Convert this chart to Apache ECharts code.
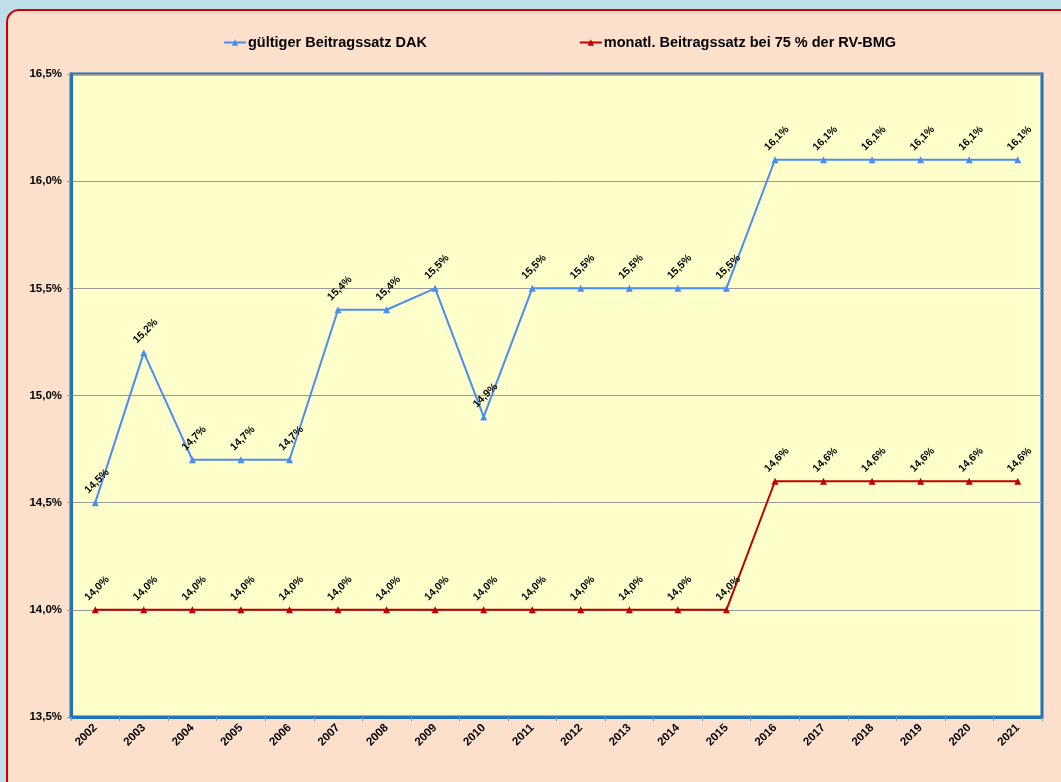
<!DOCTYPE html>
<html><head><meta charset="utf-8">
<script src="https://cdn.jsdelivr.net/npm/echarts@6/dist/echarts.min.js"></script>
<style>html,body{margin:0;padding:0;background:#bfe0eb;}#c{width:1061px;height:782px;}</style>
</head><body><div id="c"></div>
<script>
const years = ['2002','2003','2004','2005','2006','2007','2008','2009','2010','2011','2012','2013','2014','2015','2016','2017','2018','2019','2020','2021'];
const dakRate = [14.5,15.2,14.7,14.7,14.7,15.4,15.4,15.5,14.9,15.5,15.5,15.5,15.5,15.5,16.1,16.1,16.1,16.1,16.1,16.1];
const bmgRate = [14.0,14.0,14.0,14.0,14.0,14.0,14.0,14.0,14.0,14.0,14.0,14.0,14.0,14.0,14.6,14.6,14.6,14.6,14.6,14.6];
const seriesNames = ['gültiger Beitragssatz DAK','monatl. Beitragssatz bei 75 % der RV-BMG'];

const fmt = v => v.toFixed(1).replace('.', ',') + '%';
const font = '"Liberation Sans", Arial, sans-serif';
const chart = echarts.init(document.getElementById('c'));
const lbl = {
  show: true, position: 'top', distance: 14, rotate: 45, offset: [4, 4],
  formatter: p => fmt(p.value), fontFamily: font, fontWeight: 'bold', fontSize: 10.5, color: '#000'
};
chart.setOption({
  backgroundColor: '#bfe0eb',
  animation: false,
  graphic: [{
    type: 'rect', z: -10, silent: true,
    shape: {x: 7, y: 10, width: 1080, height: 800, r: 12},
    style: {fill: '#fde0cc', stroke: '#cc0000', lineWidth: 2}
  }],
  legend: {
    top: 30, left: 218, itemGap: 152, itemWidth: 22, itemHeight: 8,
    textStyle: {fontFamily: font, fontWeight: 'bold', fontSize: 14.5, color: '#000', padding: [0, 0, 0, -3]},
    data: seriesNames
  },
  grid: {
    left: 71, right: 19, top: 74, bottom: 65,
    show: true, backgroundColor: '#ffffcc', borderColor: '#1e73be', borderWidth: 3
  },
  xAxis: {
    type: 'category', data: years, boundaryGap: true,
    axisLine: {lineStyle: {color: '#1e73be', width: 3}},
    axisTick: {show: true, length: 4, lineStyle: {color: '#999'}},
    axisLabel: {rotate: 45, margin: 9, fontFamily: font, fontWeight: 'bold', fontSize: 11.5, color: '#000'}
  },
  yAxis: {
    type: 'value', min: 13.5, max: 16.5, interval: 0.5,
    axisLine: {show: true, lineStyle: {color: '#1e73be', width: 3}},
    axisTick: {show: true, length: 4, lineStyle: {color: '#999'}},
    splitLine: {lineStyle: {color: '#999', width: 1}},
    axisLabel: {margin: 9, formatter: v => fmt(v), fontFamily: font, fontWeight: 'bold', fontSize: 11.5, color: '#000'}
  },
  series: [
    {name: seriesNames[0], type: 'line', data: dakRate, symbol: 'triangle', symbolSize: 7,
     lineStyle: {color: '#4a8cf5', width: 2}, itemStyle: {color: '#4a8cf5'}, label: lbl},
    {name: seriesNames[1], type: 'line', data: bmgRate, symbol: 'triangle', symbolSize: 7,
     lineStyle: {color: '#c00000', width: 2}, itemStyle: {color: '#c00000'}, label: lbl}
  ]
});
</script></body></html>
